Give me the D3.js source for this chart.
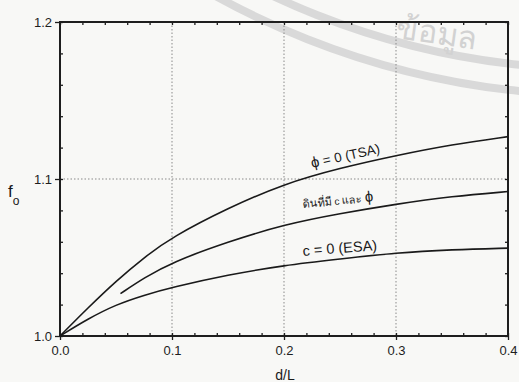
<!DOCTYPE html>
<html>
<head>
<meta charset="utf-8">
<script src="https://cdn.jsdelivr.net/npm/d3@7"></script>
<style>
  html, body { margin: 0; padding: 0; background: #f8f8f6; }
  svg { display: block; font-family: "Liberation Sans", Arial, sans-serif; }
  .axis-line { stroke: #1e1e1e; stroke-width: 2; fill: none; }
  .tick line { stroke: #1e1e1e; stroke-width: 1.3; }
  .grid line { stroke: #8a8a8a; stroke-width: 1; stroke-dasharray: 1.5 2; }
  .curve { fill: none; stroke: #1a1a1a; stroke-width: 1.6; }
  .tick-label { font-size: 13px; fill: #1e1e1e; }
</style>
</head>
<body>
<svg id="chart" width="519" height="382"></svg>
<script>
// d/L values
const xTickValues = [0.0, 0.1, 0.2, 0.3, 0.4];
const yTickValues = [1.0, 1.1, 1.2];
const xTickLabels = ['0.0', '0.1', '0.2', '0.3', '0.4'];
const yTickLabels = ['1.0', '1.1', '1.2'];

// phi = 0 (TSA)
const tsaX = [0, 0.025, 0.05, 0.075, 0.1, 0.15, 0.2, 0.25, 0.3, 0.35, 0.4];
const tsaY = [1.0, 1.018, 1.035, 1.050, 1.063, 1.0815, 1.097, 1.107, 1.115, 1.122, 1.127];

// soil with c and phi
const cphiX = [0.054, 0.075, 0.1, 0.15, 0.2, 0.25, 0.3, 0.35, 0.4];
const cphiY = [1.027, 1.037, 1.047, 1.060, 1.071, 1.078, 1.084, 1.089, 1.092];

// c = 0 (ESA)
const esaX = [0, 0.025, 0.05, 0.075, 0.1, 0.15, 0.2, 0.25, 0.3, 0.35, 0.4];
const esaY = [1.0, 1.011, 1.020, 1.026, 1.031, 1.039, 1.045, 1.049, 1.053, 1.055, 1.056];

const seriesList = [
  { name: 'tsa', xs: tsaX, ys: tsaY },
  { name: 'cphi', xs: cphiX, ys: cphiY },
  { name: 'esa', xs: esaX, ys: esaY }
];

const margin = { top: 22, right: 11, bottom: 46, left: 60 };
const width = 519, height = 382;
const innerW = width - margin.left - margin.right;
const innerH = height - margin.top - margin.bottom;

const svg = d3.select('#chart');

const x = d3.scaleLinear().domain([0, 0.4]).range([margin.left, margin.left + innerW]);
const y = d3.scaleLinear().domain([1.0, 1.2]).range([margin.top + innerH, margin.top]);

// faint watermark in the top right corner
const wm = svg.append('g').attr('class', 'watermark');
[769, 795].forEach(r => {
  wm.append('circle')
    .attr('cx', 600).attr('cy', -700).attr('r', r)
    .attr('fill', 'none').attr('stroke', '#d9d9d9').attr('stroke-width', 8);
});
wm.append('text')
  .attr('x', 395).attr('y', 38)
  .attr('transform', 'rotate(8,395,38)')
  .attr('font-family', 'Noto Sans, sans-serif')
  .attr('font-size', 32).attr('fill', '#d2d2d2')
  .text('ข้อมูล');

// dotted grid
const grid = svg.append('g').attr('class', 'grid');
grid.selectAll('.gx').data(xTickValues.slice(1, -1)).join('line')
  .attr('x1', d => x(d)).attr('x2', d => x(d))
  .attr('y1', y(1.2)).attr('y2', y(1.0));
grid.selectAll('.gy').data(yTickValues.slice(1, -1)).join('line')
  .attr('x1', x(0)).attr('x2', x(0.4))
  .attr('y1', d => y(d)).attr('y2', d => y(d));

// axes: major ticks outward, minor ticks inward
const minorX = d3.range(0, 0.4001, 0.02);
const minorY = d3.range(1.0, 1.2001, 0.02);

const bottomAxis = d3.axisBottom(x).tickValues(xTickValues).tickSize(4)
  .tickFormat((d, i) => xTickLabels[i]).tickPadding(6);
const leftAxis = d3.axisLeft(y).tickValues(yTickValues).tickSize(5)
  .tickFormat((d, i) => yTickLabels[i]).tickPadding(3);

const gb = svg.append('g').attr('transform', `translate(0,${y(1.0)})`).call(bottomAxis);
const gl = svg.append('g').attr('transform', `translate(${x(0)},0)`).call(leftAxis);
[gb, gl].forEach(g => {
  g.select('.domain').remove();
  g.selectAll('text').attr('class', 'tick-label').attr('font-size', null).attr('font-family', null);
});

const gt = svg.append('g').attr('transform', `translate(0,${y(1.2)})`)
  .call(d3.axisBottom(x).tickValues(minorX).tickSize(3).tickFormat(''));
const gr = svg.append('g').attr('transform', `translate(${x(0.4)},0)`)
  .call(d3.axisLeft(y).tickValues(minorY).tickSize(3).tickFormat(''));
const gbm = svg.append('g').attr('transform', `translate(0,${y(1.0)})`)
  .call(d3.axisTop(x).tickValues(minorX).tickSize(3).tickFormat(''));
const glm = svg.append('g').attr('transform', `translate(${x(0)},0)`)
  .call(d3.axisRight(y).tickValues(minorY).tickSize(3).tickFormat(''));
[gt, gr, gbm, glm].forEach(g => g.select('.domain').remove());

svg.append('rect').attr('class', 'axis-line')
  .attr('x', x(0)).attr('y', y(1.2))
  .attr('width', x(0.4) - x(0)).attr('height', y(1.0) - y(1.2));

// curves
const line = d3.line()
  .x(d => x(d[0])).y(d => y(d[1]))
  .curve(d3.curveBasis);

svg.append('g').selectAll('path').data(seriesList).join('path')
  .attr('class', d => `curve ${d.name}`)
  .attr('d', d => line(d3.zip(d.xs, d.ys)));

// curve labels
const labels = [
  { at: [0.225, 1.107], angle: -12.5, parts: [['ϕ', 15], [' = 0 (TSA)', 13.5]] },
  { at: [0.217, 1.0815], angle: -5.5, parts: [['ดินที่มี', 11], [' c ', 10], ['และ ', 11], ['ϕ', 15]] },
  { at: [0.217, 1.051], angle: -4.5, parts: [['c = 0 (ESA)', 14.5]] }
];
labels.forEach(l => {
  const px = x(l.at[0]), py = y(l.at[1]);
  const t = svg.append('text')
    .attr('x', px).attr('y', py)
    .attr('transform', `rotate(${l.angle},${px},${py})`)
    .attr('fill', '#1a1a1a');
  l.parts.forEach(p => {
    t.append('tspan').attr('font-size', p[1]).text(p[0]);
  });
});

// axis titles
const fo = svg.append('text').attr('x', 8).attr('y', 197).attr('fill', '#1a1a1a');
fo.append('tspan').attr('font-size', 17).text('f');
fo.append('tspan').attr('font-size', 12).attr('dy', 8).text('o');

svg.append('text')
  .attr('x', 285).attr('y', 380)
  .attr('text-anchor', 'middle')
  .attr('font-size', 14).attr('fill', '#1a1a1a')
  .text('d/L');
</script>
</body>
</html>
